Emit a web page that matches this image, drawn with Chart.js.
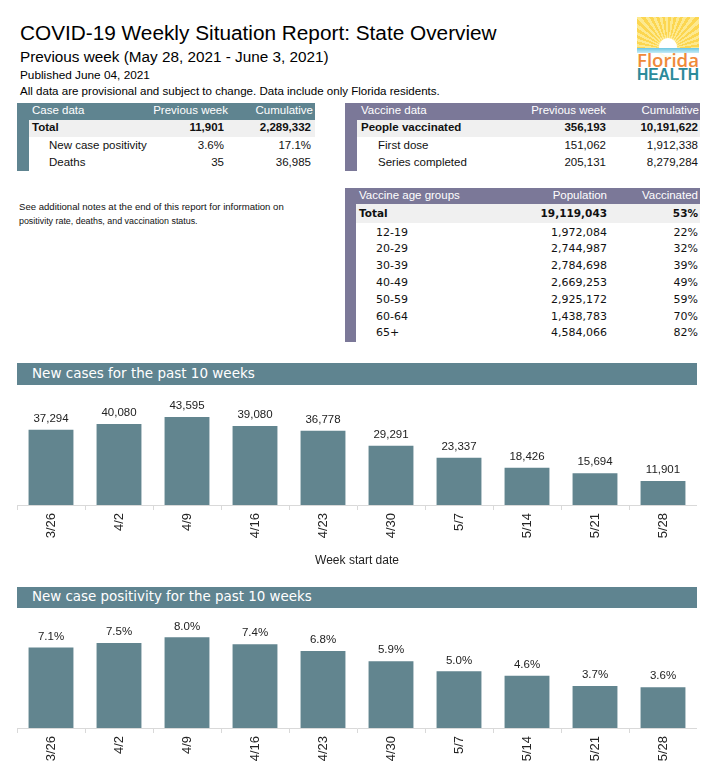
<!DOCTYPE html>
<html>
<head>
<meta charset="utf-8">
<script src="https://cdn.jsdelivr.net/npm/chart.js@4.4.1/dist/chart.umd.min.js"></script>
<style>
  body { margin: 0; background: #fff; }
  #page { position: relative; width: 728px; height: 768px; overflow: hidden; background: #fff; }
  .t { position: absolute; white-space: nowrap; }
  .r { position: absolute; }
  canvas { position: absolute; }
</style>
</head>
<body>
<div id="page">
  <canvas id="casesChart" width="680" height="180" style="left:17px;top:390px;width:680px;height:180px"></canvas>
  <canvas id="positivityChart" width="680" height="156" style="left:17px;top:612px;width:680px;height:156px"></canvas>
</div>
<script>
// chart data
const weekLabels = ['3/26', '4/2', '4/9', '4/16', '4/23', '4/30', '5/7', '5/14', '5/21', '5/28'];
const weeklyCases = [37294, 40080, 43595, 39080, 36778, 29291, 23337, 18426, 15694, 11901];
const weeklyPositivity = [7.1, 7.5, 8.0, 7.4, 6.8, 5.9, 5.0, 4.6, 3.7, 3.6];

const SANS = '"Liberation Sans", Arial, sans-serif';
const VERD = '"DejaVu Sans", Verdana, sans-serif';
const TEAL = '#5f8490';
const PURPLE = '#7b7898';
const BAR = '#62858f';
const page = document.getElementById('page');

// absolutely placed text, cy = vertical centre
function put(text, x, cy, o) {
    o = o || {};
    const el = document.createElement('div');
    el.className = 't';
    el.textContent = text;
    let size = o.size || 12;
    el.style.fontSize = size + 'px';
    el.style.fontFamily = o.family || SANS;
    if (o.bold) el.style.fontWeight = o.bold === true ? 'bold' : o.bold;
    el.style.color = o.color || '#111';
    page.appendChild(el);
    if (o.w) {
        size = size * o.w / el.getBoundingClientRect().width;
        el.style.fontSize = size + 'px';
    }
    el.style.lineHeight = size + 'px';
    el.style.top = (cy - size / 2) + 'px';
    if (o.right) el.style.left = (x - el.getBoundingClientRect().width) + 'px';
    else el.style.left = x + 'px';
    return el;
}

function box(x, y, w, h, bg) {
    const el = document.createElement('div');
    el.className = 'r';
    el.style.left = x + 'px';
    el.style.top = y + 'px';
    el.style.width = w + 'px';
    el.style.height = h + 'px';
    el.style.background = bg;
    page.appendChild(el);
    return el;
}

// header
put('COVID-19 Weekly Situation Report: State Overview', 20, 33, { size: 22, w: 477, color: '#000' });
put('Previous week (May 28, 2021 - June 3, 2021)', 20, 57, { size: 17, w: 309, color: '#000' });
put('Published June 04, 2021', 20, 76, { size: 12, w: 130, color: '#000' });
put('All data are provisional and subject to change. Data include only Florida residents.', 20, 92, { size: 12, w: 420, color: '#000' });

// logo
const logo = box(637, 17, 62, 64, '#fff');
logo.style.overflow = 'hidden';
const rays = document.createElement('div');
rays.className = 'r';
rays.style.cssText = 'left:0;top:0;width:62px;height:31px;background:repeating-conic-gradient(from 0deg at 50% 105%, #fcd650 0deg 5deg, #fde98f 5deg 10deg);';
logo.appendChild(rays);
const sun = document.createElement('div');
sun.className = 'r';
sun.style.cssText = 'left:22px;top:21px;width:18px;height:18px;border-radius:50%;background:#fff;box-shadow:0 0 5px #fff3b0;';
logo.appendChild(sun);
const water = document.createElement('div');
water.className = 'r';
water.style.cssText = 'left:0;top:31px;width:62px;height:5px;background:linear-gradient(#6cc7e3,#c6ebf5);';
logo.appendChild(water);
put('Florida', 637, 60, { size: 17, w: 62, color: '#ef8a3a', bold: 600, family: '"Open Sans", sans-serif' });
put('HEALTH', 637, 75, { size: 16, w: 62, color: '#2c8b9b', bold: true, family: '"Liberation Sans Narrow", ' + SANS });

// case data table
box(17, 103, 12, 68, TEAL);
box(17, 103, 298, 17, TEAL);
box(29, 120, 286, 17, '#f0f0f0');
put('Case data', 32, 111, { size: 11.5, color: '#fff' });
put('Previous week', 228, 111, { size: 11.5, color: '#fff', right: true });
put('Cumulative', 313, 111, { size: 11.5, color: '#fff', right: true });
put('Total', 32, 128, { size: 11.5, bold: true });
put('11,901', 224, 128, { size: 11.5, bold: true, right: true });
put('2,289,332', 311, 128, { size: 11.5, bold: true, right: true });
put('New case positivity', 49, 146, { size: 11.5 });
put('3.6%', 224, 146, { size: 11.5, right: true });
put('17.1%', 311, 146, { size: 11.5, right: true });
put('Deaths', 49, 163, { size: 11.5 });
put('35', 224, 163, { size: 11.5, right: true });
put('36,985', 311, 163, { size: 11.5, right: true });

// vaccine data table
box(345, 103, 12, 68, PURPLE);
box(345, 103, 355, 17, PURPLE);
box(357, 120, 343, 17, '#f0f0f0');
put('Vaccine data', 361, 111, { size: 11.5, color: '#fff' });
put('Previous week', 606, 111, { size: 11.5, color: '#fff', right: true });
put('Cumulative', 699, 111, { size: 11.5, color: '#fff', right: true });
put('People vaccinated', 361, 128, { size: 11.5, bold: true });
put('356,193', 606, 128, { size: 11.5, bold: true, right: true });
put('10,191,622', 698, 128, { size: 11.5, bold: true, right: true });
put('First dose', 378, 146, { size: 11.5 });
put('151,062', 606, 146, { size: 11.5, right: true });
put('1,912,338', 698, 146, { size: 11.5, right: true });
put('Series completed', 378, 163, { size: 11.5 });
put('205,131', 606, 163, { size: 11.5, right: true });
put('8,279,284', 698, 163, { size: 11.5, right: true });

// notes
put('See additional notes at the end of this report for information on', 19, 207, { size: 9.5, w: 265, color: '#111' });
put('positivity rate, deaths, and vaccination status.', 19, 221, { size: 9.5, w: 179, color: '#111' });

// vaccine age groups table
box(345, 188, 11, 154, PURPLE);
box(345, 188, 355, 16, PURPLE);
box(356, 204, 344, 19, '#f0f0f0');
put('Vaccine age groups', 359, 196, { size: 11.5, color: '#fff' });
put('Population', 607, 196, { size: 11.5, color: '#fff', right: true });
put('Vaccinated', 698, 196, { size: 11.5, color: '#fff', right: true });
put('Total', 359, 213, { size: 10.5, bold: true, family: VERD });
put('19,119,043', 607, 213, { size: 10.5, bold: true, family: VERD, right: true });
put('53%', 698, 213, { size: 10.5, bold: true, family: VERD, right: true });
const ageRows = [
    ['12-19', '1,972,084', '22%'],
    ['20-29', '2,744,987', '32%'],
    ['30-39', '2,784,698', '39%'],
    ['40-49', '2,669,253', '49%'],
    ['50-59', '2,925,172', '59%'],
    ['60-64', '1,438,783', '70%'],
    ['65+', '4,584,066', '82%']
];
ageRows.forEach(function (row, i) {
    const cy = 232 + i * 16.8;
    put(row[0], 376, cy, { size: 11, family: VERD });
    put(row[1], 607, cy, { size: 11, family: VERD, right: true });
    put(row[2], 698, cy, { size: 11, family: VERD, right: true });
});

// section bars
box(17, 363, 680, 22, TEAL);
put('New cases for the past 10 weeks', 32, 374, { size: 15, w: 223, color: '#fff', family: VERD });
box(17, 587, 680, 21, TEAL);
put('New case positivity for the past 10 weeks', 32, 597, { size: 15, w: 280, color: '#fff', family: VERD });

// value labels above bars
const barLabels = {
    id: 'barLabels',
    afterDatasetsDraw(chart) {
        const fmt = chart.options.plugins.barLabels.format;
        const ctx = chart.ctx;
        const meta = chart.getDatasetMeta(0);
        const values = chart.data.datasets[0].data;
        ctx.save();
        ctx.font = '11.5px ' + SANS;
        ctx.fillStyle = '#222';
        ctx.textAlign = 'center';
        ctx.textBaseline = 'middle';
        meta.data.forEach(function (bar, i) {
            const v = values[i];
            const txt = fmt === 'pct' ? v.toFixed(1) + '%' : v.toLocaleString('en-US');
            ctx.fillText(txt, bar.x, bar.y - 11);
        });
        ctx.restore();
    }
};

function makeBarChart(id, values, yMax, axisHeight, fmt, axisTitle) {
    const ctx = document.getElementById(id).getContext('2d');
    return new Chart(ctx, {
        type: 'bar',
        data: {
            labels: weekLabels,
            datasets: [{
                data: values,
                backgroundColor: BAR,
                borderWidth: 0,
                categoryPercentage: 1,
                barPercentage: 0.66
            }]
        },
        options: {
            responsive: false,
            animation: false,
            layout: { padding: { top: 14, left: 0, right: 0, bottom: 0 } },
            plugins: {
                legend: { display: false },
                tooltip: { enabled: false },
                barLabels: { format: fmt }
            },
            scales: {
                x: {
                    grid: { drawOnChartArea: false, drawTicks: true, tickLength: 5, color: '#d9d9d9' },
                    border: { color: '#d9d9d9' },
                    ticks: {
                        minRotation: 90,
                        maxRotation: 90,
                        padding: 3,
                        color: '#222',
                        font: { family: SANS, size: 13 }
                    },
                    title: {
                        display: !!axisTitle,
                        text: axisTitle || '',
                        color: '#222',
                        font: { family: SANS, size: 12 },
                        padding: { top: 4, bottom: 2 }
                    },
                    afterFit: function (axis) { axis.height = axisHeight; }
                },
                y: { display: false, min: 0, max: yMax }
            }
        },
        plugins: [barLabels]
    });
}

makeBarChart('casesChart', weeklyCases, 50000, 65, 'int', 'Week start date');
makeBarChart('positivityChart', weeklyPositivity, 9, 40, 'pct', null);
</script>
</body>
</html>
